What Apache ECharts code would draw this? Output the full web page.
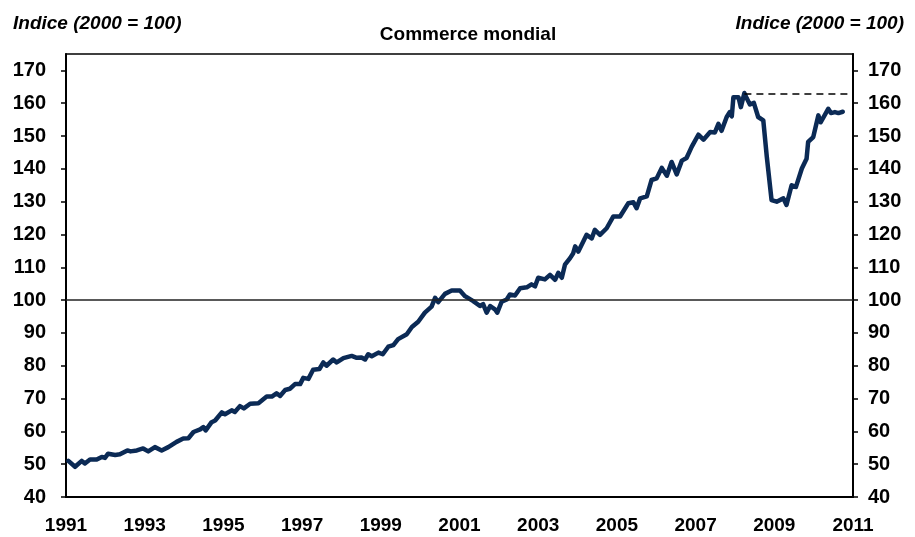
<!DOCTYPE html>
<html>
<head>
<meta charset="utf-8">
<script src="https://cdn.jsdelivr.net/npm/echarts@6/dist/echarts.min.js"></script>
<style>
  html, body { margin: 0; padding: 0; background: #fff; }
  #chart { width: 915px; height: 537px; }
</style>
</head>
<body>
<div id="chart"></div>
<script>
// time in decimal years, index 2000 = 100
var years = [
  1991.06, 1991.23, 1991.40, 1991.48, 1991.61, 1991.78, 1991.91, 1991.99,
  1992.07, 1992.25, 1992.37, 1992.56, 1992.64, 1992.80, 1992.96,
  1993.09, 1993.26, 1993.43, 1993.60, 1993.81, 1993.98,
  1994.11, 1994.24, 1994.41, 1994.49, 1994.55, 1994.70, 1994.79, 1994.96,
  1995.04, 1995.21, 1995.29, 1995.42, 1995.52, 1995.68, 1995.89,
  1996.10, 1996.23, 1996.35, 1996.44, 1996.57, 1996.69, 1996.82, 1996.95,
  1997.03, 1997.16, 1997.28, 1997.44, 1997.54, 1997.62, 1997.79, 1997.88,
  1998.05, 1998.26, 1998.39, 1998.51, 1998.60, 1998.68, 1998.77, 1998.94,
  1999.05, 1999.19, 1999.32, 1999.44, 1999.66, 1999.79, 1999.95,
  2000.12, 2000.29, 2000.38, 2000.46, 2000.63, 2000.80,
  2001.01, 2001.14, 2001.35, 2001.52, 2001.60, 2001.69, 2001.78, 2001.90, 2001.96,
  2002.07, 2002.20, 2002.28, 2002.41, 2002.54, 2002.71, 2002.83, 2002.92,
  2003.00, 2003.17, 2003.30, 2003.43, 2003.51, 2003.60, 2003.68, 2003.81, 2003.89, 2003.94,
  2004.02, 2004.23, 2004.36, 2004.44, 2004.57, 2004.74, 2004.91,
  2005.08, 2005.29, 2005.42, 2005.50, 2005.59, 2005.76, 2005.88,
  2006.01, 2006.14, 2006.27, 2006.39, 2006.43, 2006.52, 2006.65, 2006.77, 2006.90,
  2007.07, 2007.20, 2007.37, 2007.49, 2007.58, 2007.66, 2007.79, 2007.87, 2007.92, 2007.96,
  2008.09, 2008.15, 2008.24, 2008.30, 2008.38, 2008.48, 2008.59, 2008.72, 2008.81, 2008.93,
  2009.06, 2009.23, 2009.31, 2009.44, 2009.55, 2009.70, 2009.82, 2009.86, 2009.99,
  2010.12, 2010.18, 2010.37, 2010.44, 2010.54, 2010.63, 2010.74
];
var values = [
  51.0, 49.2, 51.0, 50.2, 51.4, 51.4, 52.2, 51.9,
  53.2, 52.8, 53.0, 54.2, 53.9, 54.2, 54.8,
  53.9, 55.2, 54.2, 55.2, 56.8, 57.8,
  57.9, 59.8, 60.6, 61.3, 60.3, 62.8, 63.3, 65.8,
  65.2, 66.4, 65.9, 67.7, 67.0, 68.4, 68.6,
  70.6, 70.6, 71.6, 70.8, 72.6, 73.0, 74.4, 74.4,
  76.3, 76.0, 78.8, 79.0, 81.0, 80.0, 81.9, 81.0,
  82.3, 83.0, 82.4, 82.5, 81.9, 83.5, 82.9, 84.0,
  83.5, 85.8, 86.3, 88.1, 89.6, 91.8, 93.4,
  96.2, 98.0, 100.7, 99.4, 101.9, 102.9,
  102.9, 101.2, 99.7, 98.2, 98.8, 96.2, 98.2, 97.2, 96.2,
  99.5, 100.2, 101.7, 101.4, 103.6, 103.9, 104.8, 104.2,
  106.8, 106.3, 107.7, 106.2, 108.3, 106.8, 110.8, 112.8, 114.3, 116.4,
  114.8, 119.9, 118.8, 121.4, 119.9, 121.9, 125.5,
  125.5, 129.5, 129.8, 128.0, 131.0, 131.6, 136.6,
  137.1, 140.3, 137.9, 142.1, 142.5, 138.3, 142.5, 143.3, 146.7,
  150.4, 148.9, 151.2, 151.1, 153.7, 151.6, 155.8, 157.3, 156.0, 161.8,
  161.8, 158.8, 163.1, 161.5, 159.6, 160.1, 155.8, 154.8, 143.6, 130.5,
  130.0, 131.0, 129.0, 135.0, 134.5, 140.1, 143.1, 148.2, 149.7,
  156.3, 154.2, 158.3, 157.0, 157.3, 157.0, 157.4
];
var yTicks = [40, 50, 60, 70, 80, 90, 100, 110, 120, 130, 140, 150, 160, 170];
var xStart = 1991, xEnd = 2011;
var baseLevel = 100;
var peakYear = 2008.24, peakLevel = 163;

var chart = echarts.init(document.getElementById('chart'), null, { renderer: 'canvas' });

var lineData = years.map(function (y, i) { return [y, values[i]]; });

var font = '"Liberation Sans", Arial, sans-serif';

function yAxisDef(side, margin) {
  return {
    type: 'value',
    position: side,
    min: 40,
    max: 175,
    splitLine: { show: false },
    axisLine: { show: true, lineStyle: { color: '#000', width: 2 } },
    axisTick: { show: true, length: 5, lineStyle: { color: '#000', width: 1.5 }, customValues: yTicks },
    axisLabel: {
      customValues: yTicks,
      margin: margin,
      color: '#000',
      fontFamily: font,
      fontWeight: 'bold',
      fontSize: 20
    }
  };
}

var option = {
  animation: false,
  backgroundColor: '#fff',
  title: [
    {
      text: 'Commerce mondial',
      left: 463, top: 20, textAlign: 'center',
      textStyle: { fontFamily: font, fontWeight: 'bold', fontSize: 19, color: '#000' }
    },
    {
      text: 'Indice (2000 = 100)',
      left: 8, top: 9,
      textStyle: { fontFamily: font, fontWeight: 'bold', fontStyle: 'italic', fontSize: 19, color: '#000' }
    },
    {
      text: 'Indice (2000 = 100)',
      right: 6, top: 9,
      textStyle: { fontFamily: font, fontWeight: 'bold', fontStyle: 'italic', fontSize: 19, color: '#000' }
    }
  ],
  grid: {
    left: 66, right: 62, top: 54, bottom: 40,
    show: true, borderColor: '#000', borderWidth: 1.5
  },
  xAxis: {
    type: 'value',
    min: xStart,
    max: xEnd,
    interval: 2,
    splitLine: { show: false },
    axisLine: { show: true, lineStyle: { color: '#000', width: 2 } },
    axisTick: { show: false },
    axisLabel: {
      margin: 19,
      color: '#000',
      fontFamily: font,
      fontWeight: 'bold',
      fontSize: 19,
      formatter: function (v) { return String(v); }
    }
  },
  yAxis: [yAxisDef('left', 20), yAxisDef('right', 15)],
  series: [
    {
      type: 'line',
      data: lineData,
      showSymbol: false,
      smooth: false,
      lineStyle: { color: '#0b2a55', width: 4.5, join: 'round', cap: 'round' },
      itemStyle: { color: '#0b2a55' },
      z: 3,
      markLine: {
        silent: true,
        symbol: 'none',
        label: { show: false },
        data: [
          { yAxis: baseLevel, lineStyle: { color: '#222', width: 1.5, type: 'solid' } },
          [
            { coord: [peakYear, peakLevel], lineStyle: { color: '#000', width: 1.5, type: [7, 5] } },
            { coord: [xEnd, peakLevel] }
          ]
        ]
      }
    }
  ]
};

chart.setOption(option);
window.addEventListener('resize', chart.resize);
</script>
</body>
</html>
